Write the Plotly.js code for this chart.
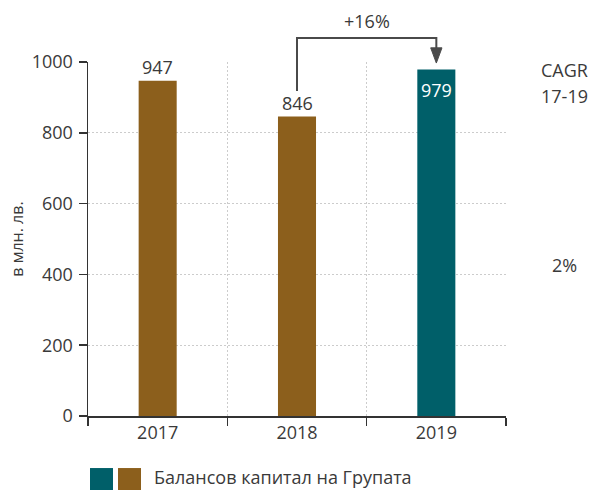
<!DOCTYPE html>
<html>
<head>
<meta charset="utf-8">
<script src="https://cdn.plot.ly/plotly-3.0.1.min.js"></script>
<style>html,body{margin:0;padding:0;background:#fff;}#chart{width:593px;height:490px;}</style>
</head>
<body>
<div id="chart"></div>
<script>
// Data
const years = ["2017", "2018", "2019"];
const values = [947, 846, 979];
const valueLabels = ["947", "846", "979"];
const barColors = ["#8C5F1C", "#8C5F1C", "#005F69"];
const growthLabel = "+16%";
const cagrTitle = ["CAGR", "17-19"];
const cagrValue = "2%";
const legendText = "Балансов капитал на Групата";
const yTitle = "в млн. лв.";

const txt = "#3a3a3a";
const fontFam = "'Open Sans', Roboto, sans-serif";
const fs = 18;

const trace = {
  type: "bar",
  x: years,
  y: values,
  marker: {color: barColors},
  hoverinfo: "none",
  showlegend: false
};

// value labels (x given as category index)
const annotations = years.map((yr, i) => {
  const inside = i === years.length - 1;
  return {
    xref: "x", yref: "y", x: i, y: values[i],
    text: valueLabels[i], showarrow: false,
    xanchor: "center",
    yanchor: inside ? "top" : "bottom",
    yshift: inside ? -7 : 0,
    font: {family: fontFam, size: fs, color: inside ? "#ffffff" : txt}
  };
});

// paper x of category center
const catX = i => (i + 0.5) / years.length;

annotations.push({
  xref: "paper", yref: "paper", x: (catX(1) + catX(2)) / 2, y: 1.116,
  text: growthLabel, showarrow: false, xanchor: "center", yanchor: "middle",
  font: {family: fontFam, size: fs, color: txt}
});
annotations.push({
  xref: "paper", yref: "paper", x: 1.141, y: 0.977,
  text: cagrTitle[0], showarrow: false, xanchor: "center", yanchor: "middle",
  font: {family: fontFam, size: fs, color: txt}
});
annotations.push({
  xref: "paper", yref: "paper", x: 1.141, y: 0.904,
  text: cagrTitle[1], showarrow: false, xanchor: "center", yanchor: "middle",
  font: {family: fontFam, size: fs, color: txt}
});
annotations.push({
  xref: "paper", yref: "paper", x: 1.141, y: 0.427,
  text: cagrValue, showarrow: false, xanchor: "center", yanchor: "middle",
  font: {family: fontFam, size: fs, color: txt}
});
annotations.push({
  xref: "paper", yref: "paper", x: 0.153, y: -0.172,
  text: legendText, showarrow: false, xanchor: "left", yanchor: "middle",
  font: {family: fontFam, size: fs, color: txt}
});

const xl = catX(1), xr = catX(2);
const hw = 0.0135;
const shapes = [
  {type: "path", xref: "paper", yref: "paper",
   path: `M ${xl} 0.918 L ${xl} 1.068 L ${xr} 1.068 L ${xr} 1.035`,
   line: {color: "#4a4a4a", width: 2}},
  {type: "path", xref: "paper", yref: "paper",
   path: `M ${xr - hw} 1.04 L ${xr + hw} 1.04 L ${xr} 0.997 Z`,
   fillcolor: "#4a4a4a", line: {color: "#4a4a4a", width: 1}},
  {type: "rect", xref: "paper", yref: "paper", x0: 0.0048, x1: 0.0598, y0: -0.147, y1: -0.215,
   fillcolor: "#005F69", line: {width: 0}},
  {type: "rect", xref: "paper", yref: "paper", x0: 0.0718, x1: 0.1268, y0: -0.147, y1: -0.215,
   fillcolor: "#8C5F1C", line: {width: 0}}
];

const layout = {
  width: 593, height: 490,
  margin: {l: 88, r: 87, t: 62, b: 74},
  paper_bgcolor: "#fff", plot_bgcolor: "#fff",
  font: {family: fontFam, color: txt, size: fs},
  bargap: 0.727,
  showlegend: false,
  xaxis: {
    type: "category",
    range: [-0.5, 2.5],
    tickson: "boundaries",
    ticks: "outside", ticklen: 8, tickcolor: "#333", tickwidth: 1.5,
    showline: true, linecolor: "#333", linewidth: 1.5,
    showgrid: true, gridcolor: "#cccccc", griddash: "2px,2px", gridwidth: 1,
    tickfont: {family: fontFam, size: fs, color: txt},
    fixedrange: true
  },
  yaxis: {
    range: [0, 1000],
    dtick: 200,
    ticks: "outside", ticklen: 8, tickcolor: "#333", tickwidth: 1.5,
    showline: true, linecolor: "#333", linewidth: 1.5,
    showgrid: true, gridcolor: "#cccccc", griddash: "2px,2px", gridwidth: 1,
    zeroline: false,
    tickfont: {family: fontFam, size: fs, color: txt},
    ticklabelstandoff: 2,
    title: {text: yTitle, font: {family: fontFam, size: 16, color: txt}, standoff: 4},
    fixedrange: true
  },
  annotations: annotations,
  shapes: shapes
};

Plotly.newPlot("chart", [trace], layout, {staticPlot: true, displayModeBar: false});
</script>
</body>
</html>
